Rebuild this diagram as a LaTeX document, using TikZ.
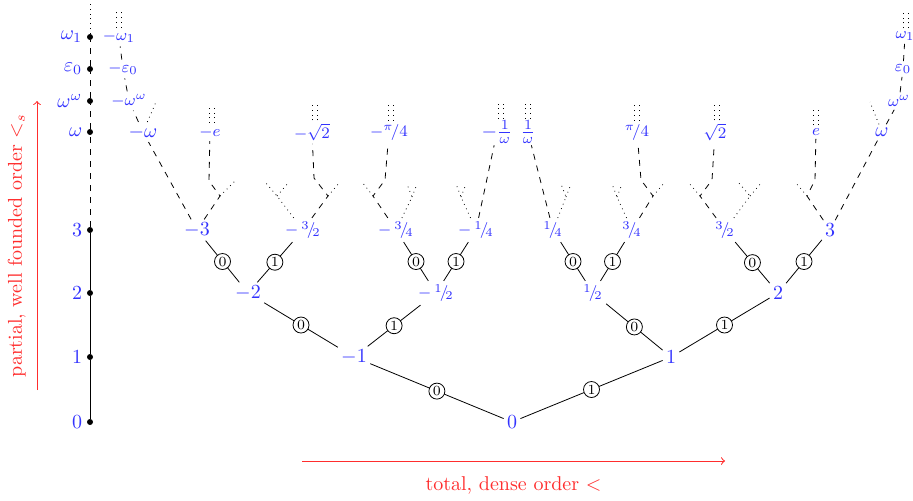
\documentclass[tikz,border=0pt]{standalone}
\usepackage{amsmath,amssymb}
\definecolor{sblue}{RGB}{51,51,255}
\definecolor{sred}{RGB}{255,45,45}
\newcommand{\myfr}[2]{{}^{#1}\!/\!_{#2}}
\newcommand{\mystubs}[2]{%
  \draw[dotted] ([xshift=#2*0.5pt-1.3pt]#1.north) -- ++(0,-19);
  \draw[dotted] ([xshift=#2*0.5pt+1.3pt]#1.north) -- ++(0,-19);}
\begin{document}
\begin{tikzpicture}[x=0.5pt,y=-0.5pt,
  bignum/.style={text=sblue,inner sep=1.5pt,font=\normalsize},
  smnum/.style={text=sblue,inner sep=1.5pt,font=\footnotesize},
  bitc/.style={draw,circle,fill=white,inner sep=0.6pt,minimum size=8pt,font=\scriptsize},
  axdot/.style={circle,fill=black,inner sep=0pt,minimum size=3pt},
  axlab/.style={text=sblue,inner sep=2pt},
  redarrow/.style={draw=sred,->,line width=0.5pt}]
\useasboundingbox (0,0) rectangle (913,500);

% ---------- tree nodes ----------
\node[bignum] (n0) at (512,422) {$0$};
\node[bignum] (m1) at (354,357) {$-1$};
\node[bignum] (p1) at (671,357) {$1$};
\node[bignum] (m2) at (248,293) {$-2$};
\node[smnum]  (mh) at (436,293) {$-\,\myfr{1}{2}$};
\node[smnum]  (ph) at (593,293) {$\myfr{1}{2}$};
\node[bignum] (p2) at (778,293) {$2$};
\node[bignum] (m3)  at (197,230) {$-3$};
\node[smnum]  (m32) at (303,230) {$-\,\myfr{3}{2}$};
\node[smnum]  (m34) at (396,230) {$-\,\myfr{3}{4}$};
\node[smnum]  (m14) at (476,230) {$-\,\myfr{1}{4}$};
\node[smnum]  (p14) at (553,230) {$\myfr{1}{4}$};
\node[smnum]  (p34) at (632,230) {$\myfr{3}{4}$};
\node[smnum]  (p32) at (725,230) {$\myfr{3}{2}$};
\node[bignum] (p3)  at (830,230) {$3$};

% ---------- top labels ----------
\node[bignum] (mw)  at (143,132) {$-\omega$};
\node[smnum]  (mww) at (129,101) {$-\omega^{\omega}$};
\node[smnum]  (me0) at (123,69)  {$-\varepsilon_0$};
\node[smnum]  (mw1) at (119,37)  {$-\omega_1$};
\node[smnum]  (me)  at (210,132) {$-e$};
\node[smnum]  (ms2) at (312,132) {$-\sqrt{2}$};
\node[smnum]  (mpi) at (389,132) {$-{}^{\pi}\!/4$};
\node[bignum,inner sep=0.5pt] (mio) at (497,132) {$-\frac{1}{\omega}$};
\node[bignum,inner sep=0.5pt] (pio) at (528,132) {$\frac{1}{\omega}$};
\node[smnum]  (ppi) at (637,132) {${}^{\pi}\!/4$};
\node[smnum]  (ps2) at (715,132) {$\sqrt{2}$};
\node[smnum]  (pe)  at (816,132) {$e$};
\node[bignum] (pw)  at (882,132) {$\omega$};
\node[smnum]  (pww) at (899,101) {$\omega^{\omega}$};
\node[smnum]  (pe0) at (903,69)  {$\varepsilon_0$};
\node[smnum]  (pw1) at (905,36)  {$\omega_1$};

% ---------- solid edges with bits ----------
\draw (n0) -- node[bitc]{0} (m1);
\draw (n0) -- node[bitc]{1} (p1);
\draw (m1) -- node[bitc]{0} (m2);
\draw (m1) -- node[bitc]{1} (mh);
\draw (p1) -- node[bitc]{0} (ph);
\draw (p1) -- node[bitc]{1} (p2);
\draw (m2) -- node[bitc]{0} (m3);
\draw (m2) -- node[bitc]{1} (m32);
\draw (mh) -- node[bitc]{0} (m34);
\draw (mh) -- node[bitc]{1} (m14);
\draw (ph) -- node[bitc]{0} (p14);
\draw (ph) -- node[bitc]{1} (p34);
\draw (p2) -- node[bitc]{0} (p32);
\draw (p2) -- node[bitc]{1} (p3);

% ---------- upper branches ----------
% -3
\draw[dashed] (m3) -- (mw);
\coordinate (m3r) at (220,196); \coordinate (m3rl) at (209,181); \coordinate (m3rr) at (235,181);
\draw[dashed] (m3) -- (m3r) -- (m3rl) -- (me);
\draw[dotted] (m3r) -- (m3rr);
% -3/2
\coordinate (m32l) at (277,196); \coordinate (m32ll) at (265,182); \coordinate (m32lr) at (289,182);
\draw[dotted] (m32) -- (m32l) -- (m32ll); \draw[dotted] (m32l) -- (m32lr);
\coordinate (m32r) at (328,196); \coordinate (m32rl) at (314,178); \coordinate (m32rr) at (340,182);
\draw[dashed] (m32) -- (m32r) -- (m32rl) -- (ms2);
\draw[dotted] (m32r) -- (m32rr);
% -3/4
\coordinate (m34l) at (373,196); \coordinate (m34ll) at (362,182); \coordinate (m34lr) at (385,180);
\draw[dashed] (m34) -- (m34l) -- (m34lr) -- (mpi);
\draw[dotted] (m34l) -- (m34ll);
\coordinate (m34r) at (412,197); \coordinate (m34rl) at (407,184); \coordinate (m34rr) at (417,184);
\draw[dotted] (m34) -- (m34r) -- (m34rl); \draw[dotted] (m34r) -- (m34rr);
% -1/4
\coordinate (m14l) at (461,197); \coordinate (m14ll) at (456,184); \coordinate (m14lr) at (466,184);
\draw[dotted] (m14) -- (m14l) -- (m14ll); \draw[dotted] (m14l) -- (m14lr);
\draw[dashed] (m14) -- (mio);
% 1/4
\draw[dashed] (p14) -- (pio);
\coordinate (p14r) at (566,197); \coordinate (p14rl) at (561,184); \coordinate (p14rr) at (571,184);
\draw[dotted] (p14) -- (p14r) -- (p14rl); \draw[dotted] (p14r) -- (p14rr);
% 3/4
\coordinate (p34l) at (617,197); \coordinate (p34ll) at (612,184); \coordinate (p34lr) at (622,184);
\draw[dotted] (p34) -- (p34l) -- (p34ll); \draw[dotted] (p34l) -- (p34lr);
\coordinate (p34r) at (653,196); \coordinate (p34rl) at (641,180); \coordinate (p34rr) at (665,182);
\draw[dashed] (p34) -- (p34r) -- (p34rl) -- (ppi);
\draw[dotted] (p34r) -- (p34rr);
% 3/2
\coordinate (p32l) at (700,196); \coordinate (p32ll) at (688,182); \coordinate (p32lr) at (712,180);
\draw[dashed] (p32) -- (p32l) -- (p32lr) -- (ps2);
\draw[dotted] (p32l) -- (p32ll);
\coordinate (p32r) at (750,196); \coordinate (p32rl) at (738,182); \coordinate (p32rr) at (762,182);
\draw[dotted] (p32) -- (p32r) -- (p32rl); \draw[dotted] (p32r) -- (p32rr);
% 3
\coordinate (p3l) at (807,196); \coordinate (p3ll) at (795,182); \coordinate (p3lr) at (815,180);
\draw[dashed] (p3) -- (p3l) -- (p3lr) -- (pe);
\draw[dotted] (p3l) -- (p3ll);
\draw[dashed] (p3) -- (pw);

% ordinals
\draw[dashed] (mw) -- (mww) -- (me0) -- (mw1);
\coordinate (mwd) at (156,102); \draw[dotted] (mw) -- (mwd);
\draw[dashed] (pw) -- (pww) -- (pe0) -- (pw1);
\coordinate (pwd) at (870,102); \draw[dotted] (pw) -- (pwd);

% continuation stubs
\mystubs{me}{2}
\mystubs{ms2}{3}
\mystubs{mpi}{2}
\mystubs{mio}{4}
\mystubs{pio}{0}
\mystubs{ppi}{0}
\mystubs{ps2}{2}
\mystubs{pe}{0}
\mystubs{mw1}{0}
\mystubs{pw1}{1}

% ---------- left axis ----------
\node[axdot,label={[axlab]left:$0$}] (a0) at (90,422) {};
\node[axdot,label={[axlab]left:$1$}] (a1) at (90,357) {};
\node[axdot,label={[axlab]left:$2$}] (a2) at (90,293) {};
\node[axdot,label={[axlab]left:$3$}] (a3) at (90,230) {};
\node[axdot,label={[axlab]left:$\omega$}] (aw) at (90,132) {};
\node[axdot,label={[axlab]left:$\omega^{\omega}$}] (aww) at (90,101) {};
\node[axdot,label={[axlab]left:$\varepsilon_0$}] (ae0) at (90,69) {};
\node[axdot,label={[axlab]left:$\omega_1$}] (aw1) at (90,37) {};
\coordinate (atop) at (90,3);
\draw (a0) -- (a1) -- (a2) -- (a3);
\draw[dashed] (a3) -- (aw) -- (aww) -- (ae0) -- (aw1);
\draw[dotted] (aw1) -- (atop);

% ---------- red arrows ----------
\coordinate (vb) at (37,390); \coordinate (vt) at (37,101);
\draw[redarrow] (vb) -- node[midway,sloped,above=2pt,text=sred]{partial, well founded order $<_s$} (vt);
\coordinate (hl) at (302,461); \coordinate (hr) at (725,461);
\draw[redarrow] (hl) -- node[midway,below=4pt,text=sred]{total, dense order $<$} (hr);
\end{tikzpicture}
\end{document}
